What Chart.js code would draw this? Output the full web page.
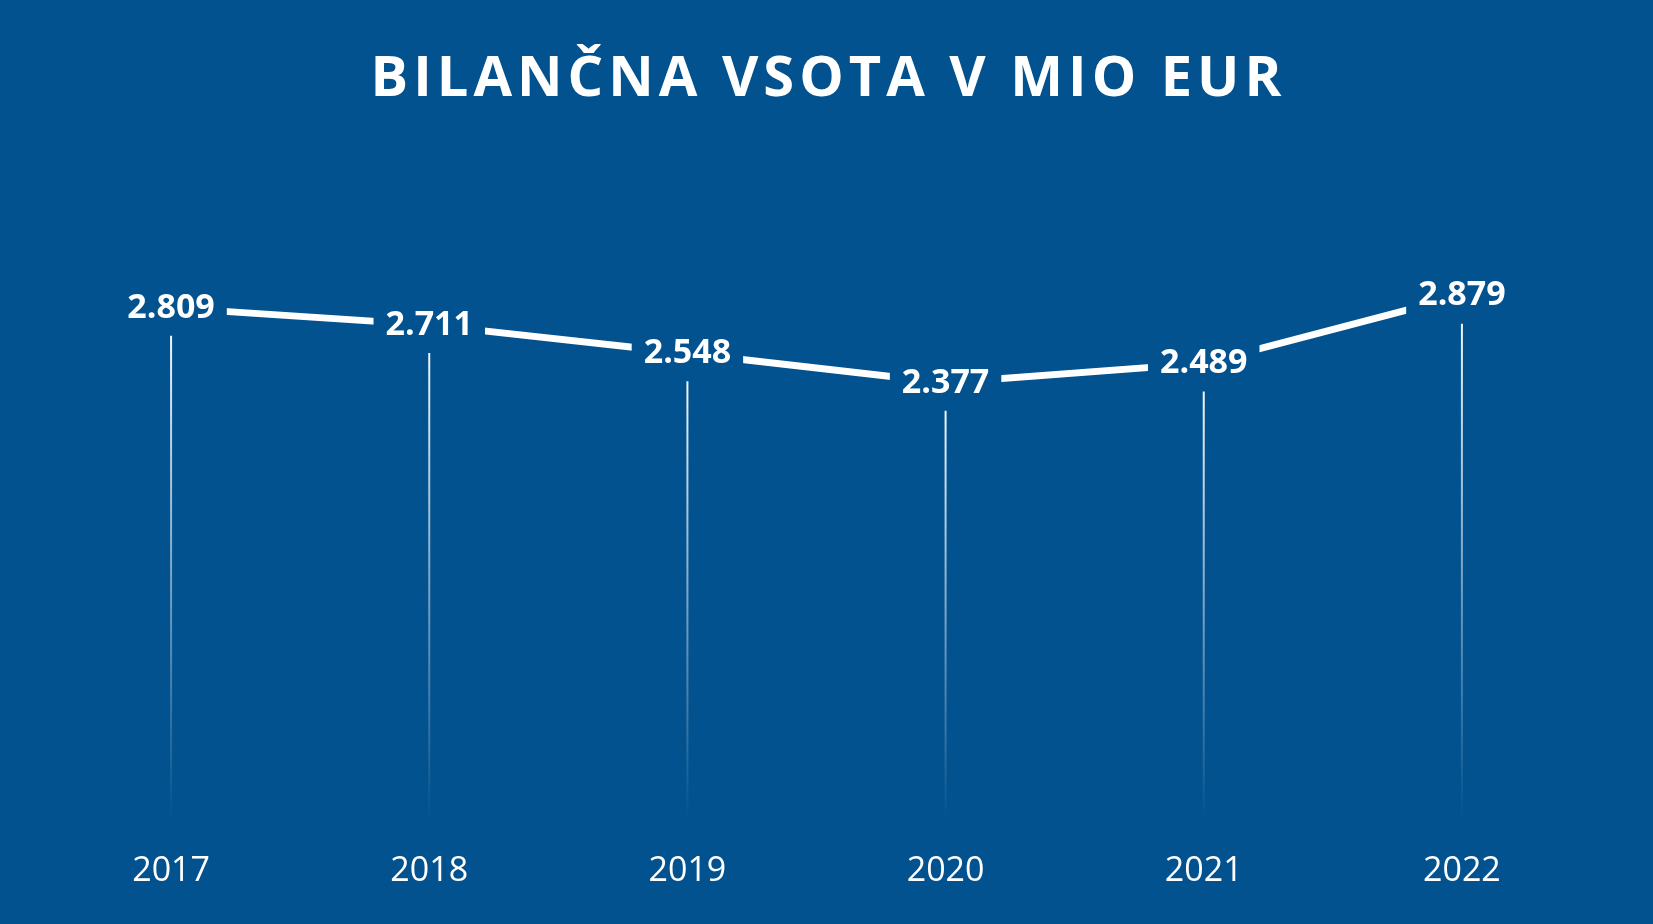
<!DOCTYPE html>
<html><head><meta charset="utf-8">
<script src="https://cdn.jsdelivr.net/npm/chart.js@4"></script>
<style>
html,body{margin:0;padding:0;background:#02528f;}
#wrap{width:1653px;height:924px;position:relative;}
</style></head>
<body><div id="wrap"><canvas id="c"></canvas></div>
<script>
const years = ["2017", "2018", "2019", "2020", "2021", "2022"];
const totals = [2.809, 2.711, 2.548, 2.377, 2.489, 2.879];
const BG = "#02528f";
const TITLE = "BILANČNA VSOTA V MIO EUR";

// spaced-out title, drop lines, value labels boxed on the background colour
const decor = {
  id: "decor",
  beforeDatasetsDraw(chart) {
    const ctx = chart.ctx, meta = chart.getDatasetMeta(0), bottom = chart.chartArea.bottom;
    ctx.save();
    ctx.font = "bold 56px 'Open Sans'";
    ctx.letterSpacing = "5px";
    ctx.fillStyle = "#fff"; ctx.textAlign = "center"; ctx.textBaseline = "middle";
    ctx.fillText(TITLE, chart.width / 2 + 2, 80);
    ctx.restore();
    meta.data.forEach(p => {
      const g = ctx.createLinearGradient(0, p.y + 28, 0, bottom);
      g.addColorStop(0, "rgba(255,255,255,0.95)");
      g.addColorStop(1, "rgba(255,255,255,0)");
      ctx.save();
      ctx.strokeStyle = g; ctx.lineWidth = 2;
      ctx.beginPath(); ctx.moveTo(p.x, p.y + 28); ctx.lineTo(p.x, bottom); ctx.stroke();
      ctx.restore();
    });
  },
  afterDatasetsDraw(chart) {
    const ctx = chart.ctx, meta = chart.getDatasetMeta(0);
    ctx.save();
    ctx.font = "bold 34px 'Open Sans'";
    ctx.textAlign = "center"; ctx.textBaseline = "middle";
    meta.data.forEach((p, i) => {
      const t = totals[i].toFixed(3);
      const w = ctx.measureText(t).width + 24;
      ctx.fillStyle = BG;
      ctx.fillRect(p.x - w / 2, p.y - 24, w, 48);
      ctx.fillStyle = "#fff";
      ctx.fillText(t, p.x, p.y);
    });
    ctx.restore();
  }
};

new Chart(document.getElementById("c"), {
  type: "line",
  data: { labels: years, datasets: [{
    data: totals, borderColor: "#fff", borderWidth: 7, pointRadius: 0, tension: 0
  }]},
  options: {
    responsive: true, maintainAspectRatio: false, animation: false,
    layout: { padding: { left: 42, right: 62, top: 188, bottom: 10 } },
    plugins: { legend: { display: false }, tooltip: { enabled: false } },
    scales: {
      x: { offset: true, grid: { display: false }, border: { display: false },
        ticks: { color: "#fff", padding: 22, font: { family: "'Open Sans'", size: 34 } } },
      y: { display: false, min: -0.15, max: 3.5 }
    }
  },
  plugins: [decor]
});
</script></body></html>
